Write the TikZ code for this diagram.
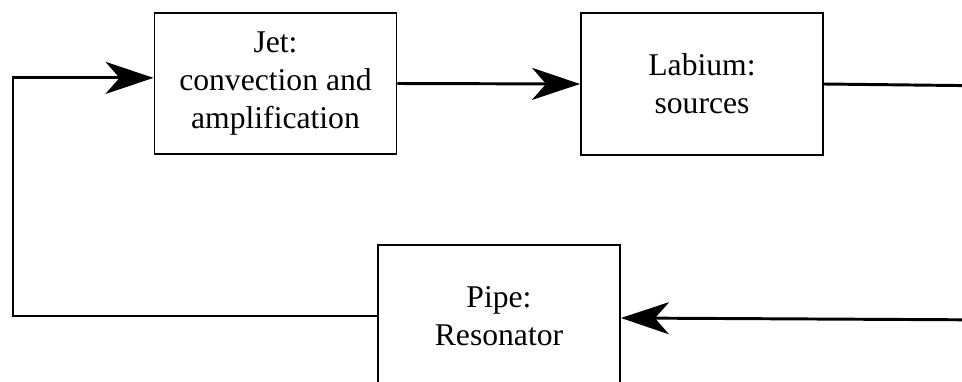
\documentclass[tikz,border=0pt]{standalone}
\usepackage{fontspec}
\setmainfont{Liberation Serif}
\newfontfamily\blockfont{Liberation Serif}
\usepackage{tikz}
\usetikzlibrary{arrows.meta, positioning}

\begin{document}
\begin{tikzpicture}[
    x=0.025cm, y=-0.025cm,
    block/.style ={rectangle, draw=black, line width=1.3pt,
                   minimum width=6.05cm, minimum height=3.53cm,
                   align=center, inner sep=2pt,
                   font=\blockfont\fontsize{22.5}{27}\selectfont},
    wire/.style  ={line width=2.1pt, black},
    arrow/.style ={wire, -{Stealth[length=1.2cm, width=0.8cm, inset=0.35cm]}}
]
\useasboundingbox (0,0) rectangle (962,382);
\clip (0,0) rectangle (962,382);

% ============================================================
% BLOCKS
% ============================================================

\node[block] (jet)    at (275.5, 83.5) {Jet:\\convection and\\amplification};
\node[block] (labium) at (702, 84)     {Labium:\\sources};
\node[block] (pipe)   at (499, 316)    {Pipe:\\Resonator};

% -- free ends, off the right edge --
\coordinate (labout) at (1000, 86);
\coordinate (pipein) at (1000, 320);
\coordinate (lft)    at (13, 0);

% ============================================================
% ARROWS
% ============================================================

% jet -> labium
\draw[arrow] (jet.east) -- (labium.west);

% labium -> (right)
\draw[wire]  (labium.east) -- (labout);

% (right) -> pipe
\draw[arrow] (pipein) -- ([yshift=-1.4pt]pipe.east);

% pipe -> jet (feedback)
\draw[arrow] (pipe.west) -- (pipe.west -| lft)
             |- ([yshift=4pt]jet.west);

\end{tikzpicture}
\end{document}
